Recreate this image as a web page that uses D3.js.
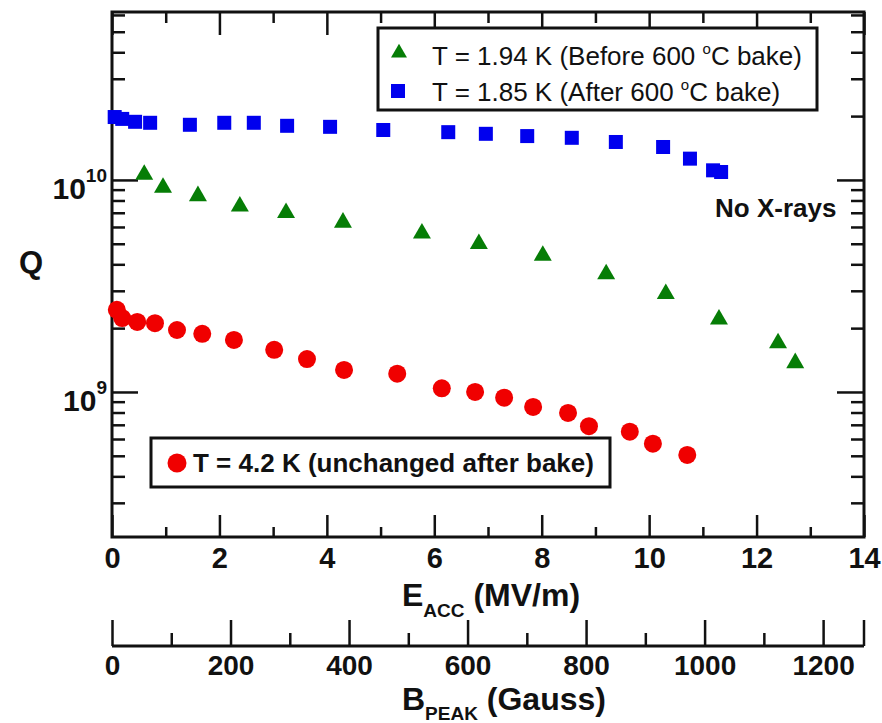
<!DOCTYPE html>
<html>
<head>
<meta charset="utf-8">
<script src="https://cdn.jsdelivr.net/npm/d3@7"></script>
<style>
body { margin: 0; background: #fff; }
text { font-family: "Liberation Sans", Arial, sans-serif; fill: #111; }
</style>
</head>
<body>
<svg id="chart" width="882" height="723"></svg>
<script>
// T = 1.85 K, after 600 C bake
var blue_e = [0.05, 0.19, 0.43, 0.71, 1.45, 2.09, 2.64, 3.26, 4.06, 5.05, 6.26, 6.96, 7.73, 8.56, 9.38, 10.26, 10.76, 11.19, 11.34];
var blue_q = [1.98e10, 1.94e10, 1.88e10, 1.86e10, 1.82e10, 1.86e10, 1.86e10, 1.80e10, 1.78e10, 1.72e10, 1.68e10, 1.65e10, 1.61e10, 1.58e10, 1.51e10, 1.43e10, 1.26e10, 1.11e10, 1.09e10];
// T = 1.94 K, before bake
var green_e = [0.60, 0.95, 1.60, 2.38, 3.24, 4.30, 5.77, 6.83, 8.02, 9.20, 10.31, 11.30, 12.40, 12.72];
var green_q = [1.06e10, 9.2e9, 8.4e9, 7.5e9, 7.0e9, 6.3e9, 5.6e9, 5.0e9, 4.4e9, 3.6e9, 2.9e9, 2.2e9, 1.70e9, 1.37e9];
// T = 4.2 K
var red_e = [0.09, 0.19, 0.47, 0.80, 1.21, 1.68, 2.27, 3.02, 3.63, 4.32, 5.31, 6.14, 6.76, 7.30, 7.84, 8.49, 8.88, 9.64, 10.07, 10.71];
var red_q = [2.44e9, 2.23e9, 2.14e9, 2.11e9, 1.96e9, 1.88e9, 1.76e9, 1.58e9, 1.43e9, 1.27e9, 1.22e9, 1.04e9, 1.00e9, 9.4e8, 8.5e8, 7.96e8, 6.9e8, 6.5e8, 5.7e8, 5.05e8];

var e_major = [0, 2, 4, 6, 8, 10, 12, 14];
var e_minor = [1, 3, 5, 7, 9, 11, 13];
var b_major = [0, 200, 400, 600, 800, 1000, 1200];
var b_minor = [100, 300, 500, 700, 900, 1100];
var q_major = [1e9, 1e10];
var q_labels = [["10", "9"], ["10", "10"]];

var legend_top = ["T = 1.94 K (Before 600 ", "T = 1.85 K (After 600 "];

var svg = d3.select("#chart");
var x = d3.scaleLinear().domain([0, 14]).range([112, 864]);
var y = d3.scaleLog().domain([Math.pow(10, 8.316), Math.pow(10, 10.792)]).range([537, 12]);
var b = d3.scaleLinear().domain([0, 1269]).range([112, 864]);

var q_minor = y.ticks().filter(function(d) { return q_major.indexOf(d) < 0; });

function styleAxis(g, width, fsize) {
    g.select(".domain").remove();
    g.selectAll(".tick line").attr("stroke", "#111").attr("stroke-width", width);
    g.selectAll("text")
      .attr("font-family", "'Liberation Sans', Arial, sans-serif")
      .attr("font-size", fsize)
      .attr("font-weight", "bold")
      .attr("fill", "#111");
}

function addAxis(axis, values, size, tx, ty, labels, pad, fsize) {
    var a = axis.tickValues(values).tickSize(size).tickPadding(pad || 10);
    if (!labels) a.tickFormat("");
    else a.tickFormat(d3.format("d"));
    var g = svg.append("g")
      .attr("transform", "translate(" + tx + "," + ty + ")")
      .call(a);
    styleAxis(g, 2.5, fsize || 29);
    return g;
}

// E axis ticks (bottom and top)
addAxis(d3.axisBottom(x), e_major, -22, 0, 537, true);
addAxis(d3.axisBottom(x), e_minor, -10, 0, 537, false);
addAxis(d3.axisTop(x), e_major, -23, 0, 12, false);
addAxis(d3.axisTop(x), e_minor, -11, 0, 12, false);

// Q axis ticks (left and right)
addAxis(d3.axisLeft(y), q_major, -26, 112, 0, false);
addAxis(d3.axisLeft(y), q_minor, -13, 112, 0, false);
addAxis(d3.axisRight(y), q_major, -27, 864, 0, false);
addAxis(d3.axisRight(y), q_minor, -13, 864, 0, false);

// frame
svg.append("rect")
    .attr("x", x.range()[0])
    .attr("y", y.range()[1])
    .attr("width", x.range()[1] - x.range()[0])
    .attr("height", y.range()[0] - y.range()[1])
    .attr("fill", "none")
    .attr("stroke", "#111")
    .attr("stroke-width", 3);

// B axis
addAxis(d3.axisBottom(b), b_major, -26, 0, 646, true, 9, 28);
addAxis(d3.axisBottom(b), b_minor, -13, 0, 646, false);
svg.append("line")
    .attr("x1", b.range()[0]).attr("x2", b.range()[1])
    .attr("y1", 646).attr("y2", 646)
    .attr("stroke", "#111").attr("stroke-width", 3);
svg.append("line")
    .attr("x1", b.range()[1]).attr("x2", b.range()[1])
    .attr("y1", 646).attr("y2", 620)
    .attr("stroke", "#111").attr("stroke-width", 2.5);

// y tick labels
svg.selectAll(".qlabel")
  .data(q_major)
  .enter()
  .append("text")
    .attr("class", "qlabel")
    .attr("x", 107)
    .attr("y", function(d) { return y(d) + 19; })
    .attr("text-anchor", "end")
    .attr("font-weight", "bold")
    .each(function(d, i) {
        var t = d3.select(this);
        t.append("tspan").attr("font-size", 30).text(q_labels[i][0]);
        t.append("tspan").attr("font-size", 19).attr("dy", -17).text(q_labels[i][1]);
    });

svg.append("text")
    .attr("x", 19).attr("y", 273)
    .attr("font-size", 31).attr("font-weight", "bold")
    .text("Q");

// axis titles
var et = svg.append("text").attr("x", 402).attr("y", 606).attr("font-weight", "bold");
et.append("tspan").attr("font-size", 32).text("E");
et.append("tspan").attr("font-size", 19).attr("dy", 11).text("ACC");
et.append("tspan").attr("font-size", 32).attr("dy", -11).text(" (MV/m)");

var bt = svg.append("text").attr("x", 402).attr("y", 710).attr("font-weight", "bold");
bt.append("tspan").attr("font-size", 32).text("B");
bt.append("tspan").attr("font-size", 19).attr("dy", 10).text("PEAK");
bt.append("tspan").attr("font-size", 32).attr("dy", -10).text(" (Gauss)");

// data
svg.selectAll(".blue")
  .data(d3.zip(blue_e, blue_q))
  .enter()
  .append("rect")
    .attr("class", "blue")
    .attr("x", function(d) { return x(d[0]) - 7; })
    .attr("y", function(d) { return y(d[1]) - 7; })
    .attr("width", 14).attr("height", 14)
    .attr("fill", "#0000ee");

var tri = d3.symbol().type(d3.symbolTriangle).size(140);
svg.selectAll(".green")
  .data(d3.zip(green_e, green_q))
  .enter()
  .append("path")
    .attr("class", "green")
    .attr("d", tri)
    .attr("transform", function(d) { return "translate(" + x(d[0]) + "," + y(d[1]) + ")"; })
    .attr("fill", "#067d06");

svg.selectAll(".red")
  .data(d3.zip(red_e, red_q))
  .enter()
  .append("circle")
    .attr("class", "red")
    .attr("cx", function(d) { return x(d[0]); })
    .attr("cy", function(d) { return y(d[1]); })
    .attr("r", 9)
    .attr("fill", "#f00000");

// top legend
svg.append("rect")
    .attr("x", 378).attr("y", 28).attr("width", 439).attr("height", 82)
    .attr("fill", "#fff").attr("stroke", "#111").attr("stroke-width", 3);
svg.append("path")
    .attr("d", d3.symbol().type(d3.symbolTriangle).size(110))
    .attr("transform", "translate(399,53)")
    .attr("fill", "#067d06");
svg.append("rect")
    .attr("x", 391).attr("y", 84).attr("width", 14).attr("height", 14)
    .attr("fill", "#0000ee");
svg.selectAll(".leg")
  .data(legend_top)
  .enter()
  .append("text")
    .attr("class", "leg")
    .attr("x", 432)
    .attr("y", function(d, i) { return 65 + i * 36; })
    .attr("font-size", 26)
    .each(function(d, i) {
        var t = d3.select(this);
        t.append("tspan").text(d);
        t.append("tspan").attr("font-size", 15).attr("dy", -11).text("o");
        t.append("tspan").attr("dy", 11).text("C bake)");
    });

// bottom legend
svg.append("rect")
    .attr("x", 151).attr("y", 438).attr("width", 459).attr("height", 49)
    .attr("fill", "#fff").attr("stroke", "#111").attr("stroke-width", 3);
svg.append("circle")
    .attr("cx", 177).attr("cy", 463).attr("r", 9.5)
    .attr("fill", "#f00000");
svg.append("text")
    .attr("x", 193).attr("y", 472)
    .attr("font-size", 26).attr("font-weight", "bold")
    .text("T = 4.2 K (unchanged after bake)");

svg.append("text")
    .attr("x", 715).attr("y", 217)
    .attr("font-size", 26).attr("font-weight", "bold")
    .text("No X-rays");
</script>
</body>
</html>
